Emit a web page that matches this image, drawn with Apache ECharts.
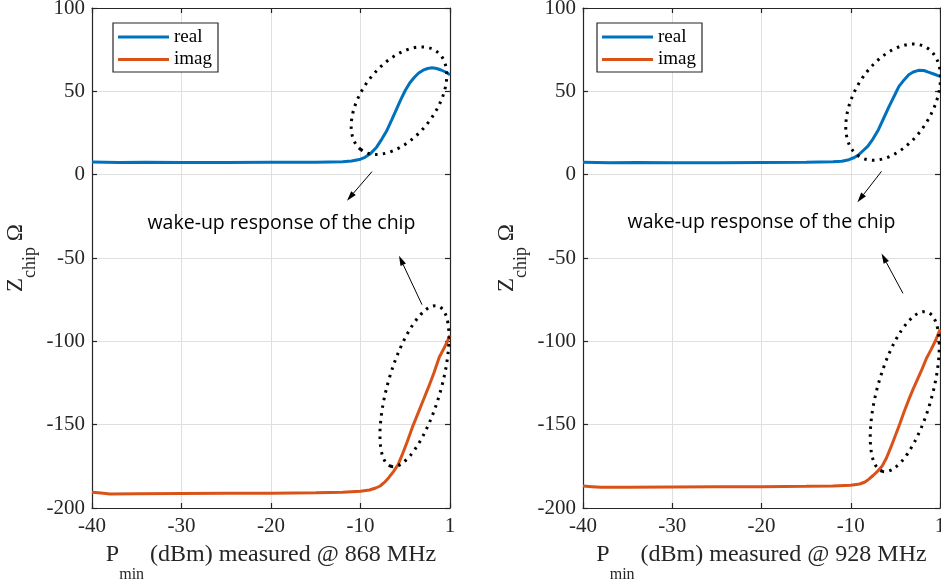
<!DOCTYPE html>
<html>
<head>
<meta charset="utf-8">
<script src="https://cdn.jsdelivr.net/npm/echarts@6/dist/echarts.min.js"></script>
<style>
  html, body { margin: 0; padding: 0; background: #fff; }
  #chart { width: 941px; height: 581px; }
</style>
</head>
<body>
<div id="chart"></div>
<script>
// x ticks: the figure labels its right end "1"
const xTickValues = [-40, -30, -20, -10, 0]
const xTickLabels = ['-40', '-30', '-20', '-10', '1']

// 868 MHz panel
const xReal868 = [-40, -37, -34, -30, -25, -20, -15, -12, -11, -10, -9.5, -8.9, -8.2, -7.6, -7.1, -6.5, -6.0, -5.5, -5.0, -4.5, -4.0, -3.5, -3.0, -2.5, -2.0, -1.5, -1.0, -0.5, 0]
const real868 = [7.6, 7.3, 7.4, 7.3, 7.3, 7.4, 7.5, 7.8, 8.2, 9.3, 10.4, 12.5, 16.5, 21.5, 26, 33, 39, 45, 50.5, 55, 58.3, 61, 62.7, 63.7, 64.1, 63.7, 62.8, 61.6, 60]
const xImag868 = [-40, -39, -38, -35, -30, -25, -20, -15, -12, -10, -9, -8.3, -7.8, -7.3, -6.8, -6.3, -5.8, -5.3, -4.8, -4.2, -3.6, -3.0, -2.4, -1.8, -1.2, -0.7, -0.3, 0]
const imag868 = [-190.5, -191, -191.6, -191.4, -191.3, -191.2, -191.1, -190.9, -190.6, -190, -189.2, -188, -186.8, -184.5, -181.5, -178, -174, -167.5, -160.5, -151.5, -143.5, -135.5, -127.5, -119, -109.5, -104.5, -100, -96.5]

// 928 MHz panel
const xReal928 = [-40, -37, -34, -30, -25, -20, -15, -12, -11, -10.2, -9.6, -9.1, -8.6, -8.1, -7.5, -6.9, -6.3, -5.7, -5.1, -4.6, -4.0, -3.5, -3.0, -2.4, -1.8, -1.3, -0.7, 0]
const real928 = [7.5, 7.2, 7.3, 7.2, 7.2, 7.3, 7.4, 7.7, 8.1, 9, 10.3, 12, 14.5, 17, 21.5, 27, 34, 41, 47.5, 53, 57, 60, 61.6, 62.6, 62.5, 61.5, 60.4, 59]
const xImag928 = [-40, -39, -38, -35, -30, -25, -20, -15, -12, -10, -9, -8.4, -8, -7.5, -7, -6.5, -6, -5.5, -5, -4.5, -4, -3.5, -3, -2.5, -2, -1.5, -1, -0.5, 0]
const imag928 = [-186.8, -187.2, -187.6, -187.5, -187.4, -187.3, -187.2, -187, -186.8, -186.4, -185.6, -184.4, -182.8, -180.5, -178, -175, -170, -163.5, -156.5, -149.5, -142, -135, -128.5, -122.5, -116.5, -110, -105, -99.5, -93]

const seriesNames = ['real', 'imag']
const freqs = ['868', '928']
const annotationText = 'wake-up response of the chip'

const serif = 'Liberation Serif, Times New Roman, serif'
const ink = '#262626'
const pair = (xs, ys) => xs.map((x, i) => [x, ys[i]])

const chart = echarts.init(document.getElementById('chart'))

const grids = [
  { left: 92, top: 8, width: 358, height: 500, outerBoundsMode: 'none' },
  { left: 583, top: 8, width: 357, height: 500, outerBoundsMode: 'none' }
]

const frameLine = { show: true, onZero: false, lineStyle: { color: ink, width: 1.2 } }
const innerTick = { show: true, inside: true, length: 5, lineStyle: { color: ink, width: 1.2 } }
const gridLine = { show: true, lineStyle: { color: '#dfdfdf', width: 1 } }

// subscript = smaller token pushed down by top padding (lineHeight covers the padding)
const xNameRich = {
  n: { fontFamily: serif, fontSize: 24, color: ink, lineHeight: 26, verticalAlign: 'top' },
  s: { fontFamily: serif, fontSize: 16, color: ink, lineHeight: 40, padding: [24, 0, 0, 0], verticalAlign: 'bottom' }
}
const yNameRich = {
  n: { fontFamily: serif, fontSize: 23, color: ink, lineHeight: 25, verticalAlign: 'top' },
  s: { fontFamily: serif, fontSize: 18, color: ink, lineHeight: 35, padding: [17, 0, 0, 0], verticalAlign: 'bottom' }
}

const xAxes = []
const yAxes = []
grids.forEach((g, gi) => {
  xAxes.push({
    gridIndex: gi, type: 'value', position: 'bottom',
    min: -40, max: 0, interval: 10,
    axisLine: frameLine, axisTick: innerTick, splitLine: gridLine,
    axisLabel: {
      fontFamily: serif, fontSize: 21, color: ink, margin: 8,
      formatter: v => xTickLabels[xTickValues.indexOf(v)] ?? ''
    },
    name: '{n|P}{s|min}{n| (dBm) measured @ ' + freqs[gi] + ' MHz}',
    nameLocation: 'middle', nameGap: 35, nameMoveOverlap: false,
    nameTextStyle: { rich: xNameRich }
  })
  xAxes.push({
    gridIndex: gi, type: 'value', position: 'top',
    min: -40, max: 0, interval: 10,
    axisLine: frameLine, axisTick: innerTick,
    axisLabel: { show: false }, splitLine: { show: false }
  })
  yAxes.push({
    gridIndex: gi, type: 'value', position: 'left',
    min: -200, max: 100, interval: 50,
    axisLine: frameLine, axisTick: innerTick, splitLine: gridLine,
    axisLabel: { fontFamily: serif, fontSize: 21, color: ink, margin: 7 },
    name: '{n|Z}{s|chip}{n| Ω}',
    nameLocation: 'middle', nameRotate: 90, nameGap: 53, nameMoveOverlap: false,
    nameTextStyle: { rich: yNameRich }
  })
  yAxes.push({
    gridIndex: gi, type: 'value', position: 'right',
    min: -200, max: 100, interval: 50,
    axisLine: frameLine, axisTick: innerTick,
    axisLabel: { show: false }, splitLine: { show: false }
  })
})

const line = (name, color, axis, data) => ({
  name, type: 'line', xAxisIndex: axis, yAxisIndex: axis,
  data, showSymbol: false, symbol: 'none',
  lineStyle: { color, width: 3 }, itemStyle: { color },
  animation: false
})

const legendFor = left => ({
  data: seriesNames, orient: 'vertical', left, top: 23,
  icon: 'rect', itemWidth: 51, itemHeight: 3, itemGap: 2.5,
  padding: [4, 6, 2.5, 5],
  backgroundColor: '#fff', borderColor: ink, borderWidth: 1.2,
  textStyle: { fontFamily: serif, fontSize: 19, color: '#000', lineHeight: 20 },
  selectedMode: false
})

chart.setOption({
  backgroundColor: '#fff',
  animation: false,
  grid: grids,
  xAxis: xAxes,
  yAxis: yAxes,
  legend: [legendFor(113), legendFor(597)],
  series: [
    line('real', '#0072BD', 0, pair(xReal868, real868)),
    line('imag', '#D95319', 0, pair(xImag868, imag868)),
    line('real', '#0072BD', 2, pair(xReal928, real928)),
    line('imag', '#D95319', 2, pair(xImag928, imag928))
  ]
})

// annotations, anchored in data units of each panel
const ellipses = [
  { g: 0, c: [-5.7, 44.4], rx: 62, ry: 36.5, deg: 52 },
  { g: 0, c: [-3.97, -126.9], rx: 83.5, ry: 26.4, deg: 73.7 },
  { g: 1, c: [-5.25, 43.5], rx: 64, ry: 39, deg: 58 },
  { g: 1, c: [-3.95, -130.2], rx: 82.7, ry: 27.5, deg: 74.5 }
]
const arrows = [
  { g: 0, from: [-8.72, 1.8], to: [-11.51, -15.6] },
  { g: 0, from: [-3.13, -78], to: [-5.7, -48.6] },
  { g: 1, from: [-6.55, 2.0], to: [-9.25, -16.6] },
  { g: 1, from: [-4.15, -71.2], to: [-6.55, -47.3] }
]
const labels = [
  { g: 0, at: [-18.83, -29.4] },
  { g: 1, at: [-20.0, -28.8] }
]

const px = (g, p) => chart.convertToPixel({ xAxisIndex: g * 2, yAxisIndex: g * 2 }, p)

const graphics = []
ellipses.forEach(e => {
  const c = px(e.g, e.c)
  graphics.push({
    type: 'ellipse', x: c[0], y: c[1], rotation: e.deg * Math.PI / 180,
    shape: { cx: 0, cy: 0, rx: e.rx, ry: e.ry },
    style: { fill: 'none', stroke: '#000', lineWidth: 3, lineDash: [2.5, 5.3] },
    silent: true, z: 10
  })
})
arrows.forEach(a => {
  const p0 = px(a.g, a.from)
  const p1 = px(a.g, a.to)
  const dx = p1[0] - p0[0], dy = p1[1] - p0[1]
  const len = Math.hypot(dx, dy)
  const ux = dx / len, uy = dy / len
  const head = 10, half = 3
  const bx = p1[0] - ux * head, by = p1[1] - uy * head
  graphics.push({
    type: 'line', shape: { x1: p0[0], y1: p0[1], x2: bx, y2: by },
    style: { stroke: '#000', lineWidth: 1 }, silent: true, z: 10
  })
  graphics.push({
    type: 'polygon',
    shape: { points: [p1, [bx - uy * half, by + ux * half], [bx + uy * half, by - ux * half]] },
    style: { fill: '#000' }, silent: true, z: 10
  })
})
labels.forEach(l => {
  const p = px(l.g, l.at)
  graphics.push({
    type: 'text', x: p[0], y: p[1],
    style: {
      text: annotationText, fontFamily: 'Open Sans, Noto Sans, sans-serif',
      fontSize: 19.5, fill: '#000', align: 'center', verticalAlign: 'middle'
    },
    silent: true, z: 10
  })
})

chart.setOption({ graphic: graphics })
</script>
</body>
</html>
